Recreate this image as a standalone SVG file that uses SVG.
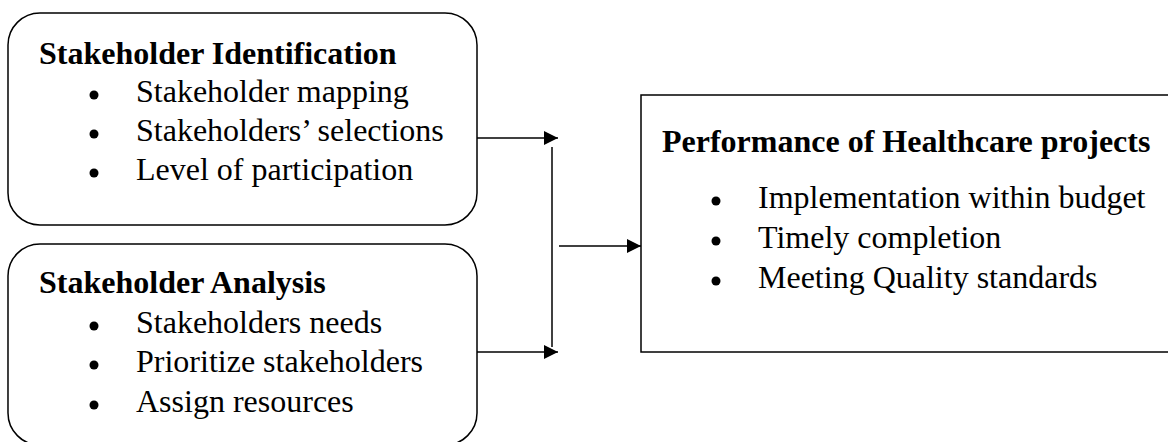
<svg xmlns="http://www.w3.org/2000/svg" width="1168" height="442" viewBox="0 0 1168 442">
<style>
.box{fill:#fff;stroke:#000;stroke-width:1.5}
.title{font-family:"Liberation Serif",serif;font-weight:bold;font-size:32px;fill:#000}
.item{font-family:"Liberation Serif",serif;font-size:32px;fill:#000}
.bul{fill:#000}
.conn{stroke:#000;stroke-width:1.5;fill:none}
</style>
<defs>
<marker id="ah" viewBox="0 0 14 14" refX="14" refY="7" markerWidth="14" markerHeight="14" markerUnits="userSpaceOnUse" orient="auto">
<path d="M0,0 L14,7 L0,14 Z" fill="#000"/>
</marker>
</defs>
<rect width="1168" height="442" fill="#fff"/>
<g id="stakeholder-identification">
<rect class="box" x="8" y="13" width="469" height="212" rx="32" ry="32"/>
<text class="title" x="39" y="64">Stakeholder Identification</text>
<circle class="bul" cx="94" cy="95" r="4.5"/>
<text class="item" x="136" y="102">Stakeholder mapping</text>
<circle class="bul" cx="94" cy="134" r="4.5"/>
<text class="item" x="136" y="141">Stakeholders’ selections</text>
<circle class="bul" cx="94" cy="173" r="4.5"/>
<text class="item" x="136" y="180">Level of participation</text>
</g>
<g id="stakeholder-analysis">
<rect class="box" x="8" y="244" width="469" height="201" rx="32" ry="32"/>
<text class="title" x="39" y="293">Stakeholder Analysis</text>
<circle class="bul" cx="94" cy="326" r="4.5"/>
<text class="item" x="136" y="333">Stakeholders needs</text>
<circle class="bul" cx="94" cy="365" r="4.5"/>
<text class="item" x="136" y="372">Prioritize stakeholders</text>
<circle class="bul" cx="94" cy="405" r="4.5"/>
<text class="item" x="136" y="412">Assign resources</text>
</g>
<g id="performance">
<rect class="box" x="641" y="95" width="540" height="257"/>
<text class="title" x="662" y="152">Performance of Healthcare projects</text>
<circle class="bul" cx="716" cy="201" r="4.5"/>
<text class="item" x="758" y="208">Implementation within budget</text>
<circle class="bul" cx="716" cy="241" r="4.5"/>
<text class="item" x="758" y="248">Timely completion</text>
<circle class="bul" cx="716" cy="281" r="4.5"/>
<text class="item" x="758" y="288">Meeting Quality standards</text>
</g>
<g id="connectors">
<line class="conn" x1="477" y1="138" x2="558" y2="138" marker-end="url(#ah)"/>
<line class="conn" x1="552" y1="147" x2="552" y2="347"/>
<line class="conn" x1="477" y1="352" x2="558" y2="352" marker-end="url(#ah)"/>
<line class="conn" x1="559" y1="246" x2="641" y2="246" marker-end="url(#ah)"/>
</g>
</svg>
